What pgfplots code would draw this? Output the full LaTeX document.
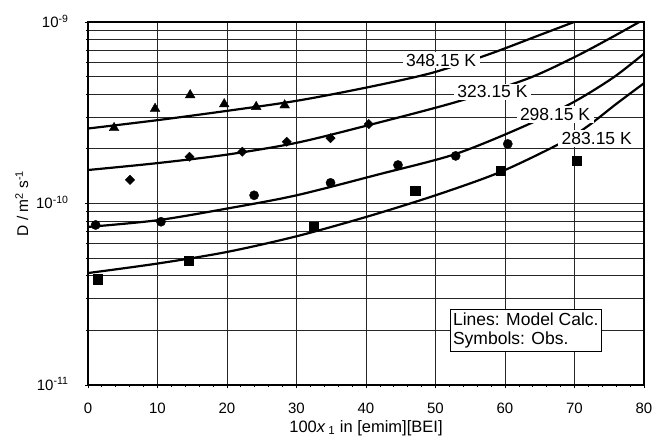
\documentclass[border=0pt]{standalone}
\usepackage{fontspec}
\setmainfont{Liberation Sans}
\usepackage{pgfplots}
\usepackage{pgfplotstable}
\pgfplotsset{compat=1.18}

% model curves (x, D)
\pgfplotstableread{
x D
0 2.59e-10
10 2.88e-10
20 3.24e-10
30 3.68e-10
40 4.35e-10
49.2 5.21e-10
56.2 6.35e-10
60 7.16e-10
65 8.48e-10
71.3 1.048e-9
75 1.2e-9
}\curveA
\pgfplotstableread{
x D
0 1.53e-10
10 1.67e-10
20 1.86e-10
30 2.16e-10
40 2.68e-10
52.8 3.61e-10
63.1 4.85e-10
69.8 6.35e-10
75.1 8.13e-10
79.9 1.03e-9
82 1.15e-9
}\curveB
\pgfplotstableread{
x D
0 7.43e-11
10 8.09e-11
20 9.38e-11
30 1.11e-10
41.9 1.45e-10
52.8 1.87e-10
62.6 2.65e-10
69.8 3.61e-10
75.6 4.95e-10
80 6.7e-10
}\curveC
\pgfplotstableread{
x D
0 4.14e-11
10 4.67e-11
20 5.41e-11
30 6.60e-11
40 8.43e-11
50 1.11e-10
59.3 1.49e-10
67.9 2.14e-10
71.8 2.65e-10
76.1 3.56e-10
80 4.6e-10
}\curveD
% observations
\pgfplotstableread{
x D
3.75 2.61e-10
9.65 3.33e-10
14.7 3.96e-10
19.6 3.53e-10
24.2 3.41e-10
28.3 3.48e-10
}\obsA
\pgfplotstableread{
x D
6.05 1.35e-10
14.6 1.81e-10
22.2 1.93e-10
28.6 2.19e-10
34.9 2.29e-10
40.4 2.74e-10
}\obsB
\pgfplotstableread{
x D
1.1 7.62e-11
10.5 7.94e-11
23.9 1.11e-10
34.9 1.30e-10
44.6 1.63e-10
52.9 1.83e-10
60.4 2.13e-10
}\obsC
\pgfplotstableread{
x D
1.4 3.82e-11
14.45 4.84e-11
32.5 7.45e-11
47.1 1.18e-10
59.4 1.52e-10
70.3 1.72e-10
}\obsD

\begin{document}
\begin{tikzpicture}
\path[use as bounding box] (-88bp,-55bp) rectangle (564bp,385bp);
\begin{axis}[
  at={(0,0)}, anchor=south west,
  scale only axis, width=556bp, height=363bp,
  xmin=0, xmax=80, ymin=1e-11, ymax=1e-9,
  ymode=log,
  xtick={0,10,...,80}, minor x tick num=4,
  ytick={1e-11,1e-10,1e-9},
  yticklabels={10\textsuperscript{-11},10\textsuperscript{-10},10\textsuperscript{-9}},
  xtick pos=bottom, ytick pos=left,
  tick align=outside,
  major tick length=3bp, minor tick length=2bp,
  tick style={black, line width=0.8bp},
  xmajorgrids, ymajorgrids, yminorgrids,
  major grid style={black!85, line width=0.8bp},
  minor grid style={black!85, line width=0.8bp},
  axis line style={black, line width=1.8bp},
  xticklabel style={font=\fontsize{15bp}{18bp}\selectfont, /pgf/number format/assume math mode=true, anchor=center, yshift=-20bp},
  yticklabel style={font=\fontsize{15bp}{18bp}\selectfont, xshift=-13bp, yshift=1bp},
  xlabel={100\textit{x}\,\textsubscript{1} in [emim][BEI]},
  ylabel={D / m\textsuperscript{2} s\textsuperscript{-1}},
  xlabel style={font=\fontsize{16.5bp}{19bp}\selectfont, at={(axis description cs:0.5,-0.118)}, anchor=center},
  ylabel style={font=\fontsize{15.5bp}{18bp}\selectfont, at={(axis description cs:-0.119,0.5)}, anchor=center},
  clip mode=individual,
]
\addplot[black, line width=2.2bp, smooth, no marks] table[x=x,y=D] {\curveA};
\addplot[black, line width=2.2bp, smooth, no marks] table[x=x,y=D] {\curveB};
\addplot[black, line width=2.2bp, smooth, no marks] table[x=x,y=D] {\curveC};
\addplot[black, line width=2.2bp, smooth, no marks] table[x=x,y=D] {\curveD};

\addplot[only marks, mark=triangle*, mark size=5.6bp, black] table[x=x,y=D] {\obsA};
\addplot[only marks, mark=square*, mark size=3.3bp, mark options={rotate=45}, black] table[x=x,y=D] {\obsB};
\addplot[only marks, mark=*, mark size=4.6bp, black] table[x=x,y=D] {\obsC};
\addplot[only marks, mark=square*, mark size=4.7bp, black] table[x=x,y=D] {\obsD};

\node[fill=white, inner xsep=3.5bp, inner ysep=2bp, font=\fontsize{17.5bp}{20bp}\selectfont] at (axis cs:50.8,6.17e-10) {348.15 K};
\node[fill=white, inner xsep=3.5bp, inner ysep=2bp, font=\fontsize{17.5bp}{20bp}\selectfont] at (axis cs:58.2,4.12e-10) {323.15 K};
\node[fill=white, inner xsep=3.5bp, inner ysep=2bp, font=\fontsize{17.5bp}{20bp}\selectfont] at (axis cs:67.2,3.10e-10) {298.15 K};
\node[fill=white, inner xsep=3.5bp, inner ysep=2bp, font=\fontsize{17.5bp}{20bp}\selectfont] at (axis cs:73.2,2.28e-10) {283.15 K};

\node[draw=black, line width=0.9bp, fill=white, align=left, inner xsep=3bp, inner ysep=3bp, font=\fontsize{17.5bp}{19.5bp}\selectfont] at (axis cs:63.0,2.0e-11) {Lines: Model Calc.\\Symbols: Obs.};
\end{axis}
\end{tikzpicture}
\end{document}
